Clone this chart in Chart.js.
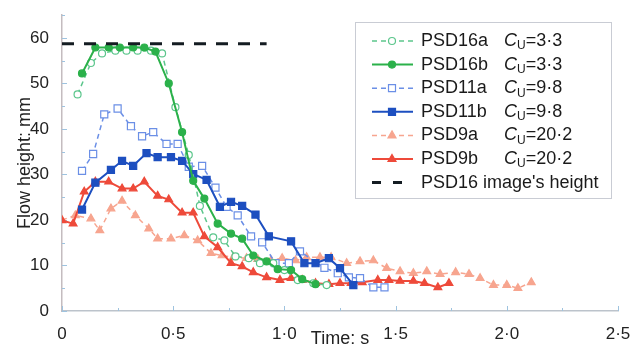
<!DOCTYPE html>
<html>
<head>
<meta charset="utf-8">
<script src="https://cdn.jsdelivr.net/npm/chart.js@4"></script>
<style>
  html, body { margin: 0; padding: 0; background: #fff; }
</style>
</head>
<body>
<canvas id="flow_chart" width="639" height="352"></canvas>
<script>
// time (s) and flow height (mm)
const t16a = [0.07, 0.13, 0.18, 0.24, 0.29, 0.34, 0.40, 0.45, 0.51, 0.57, 0.62, 0.68, 0.73, 0.78, 0.84, 0.89, 0.95, 1.00, 1.06, 1.13, 1.19]
const h16a = [47.6, 54.5, 56.6, 57.2, 57.2, 57.2, 57.2, 56.6, 44.8, 34.3, 23.1, 16.2, 15.5, 12.0, 11.6, 10.5, 10.5, 9.0, 6.8, 6.1, 5.7]

const t16b = [0.09, 0.15, 0.21, 0.26, 0.32, 0.37, 0.42, 0.48, 0.54, 0.59, 0.64, 0.70, 0.76, 0.81, 0.86, 0.92, 0.97, 1.03, 1.08, 1.14]
const h16b = [52.2, 57.9, 57.9, 57.9, 57.9, 57.9, 57.0, 50.0, 39.3, 28.6, 24.7, 19.2, 17.0, 15.9, 12.2, 10.9, 9.2, 9.0, 7.0, 5.9]

const t11a = [0.09, 0.14, 0.19, 0.25, 0.31, 0.36, 0.41, 0.47, 0.52, 0.57, 0.63, 0.69, 0.74, 0.79, 0.85, 0.90, 0.96, 1.02, 1.07, 1.18, 1.24, 1.29, 1.34, 1.40, 1.45]
const h11a = [30.8, 34.5, 43.2, 44.5, 40.6, 38.4, 39.3, 36.7, 36.7, 31.7, 31.9, 27.1, 22.9, 21.0, 16.4, 15.1, 10.5, 10.5, 13.1, 9.5, 8.3, 7.4, 7.2, 5.2, 5.2]

const t11b = [0.09, 0.15, 0.22, 0.27, 0.32, 0.38, 0.43, 0.49, 0.54, 0.59, 0.65, 0.71, 0.76, 0.81, 0.87, 0.93, 1.03, 1.09, 1.14, 1.20, 1.25, 1.31]
const h11b = [22.3, 28.2, 31.0, 33.0, 31.9, 34.7, 33.8, 33.8, 33.0, 30.1, 28.8, 22.9, 24.0, 23.1, 21.2, 16.4, 15.3, 10.5, 10.5, 11.6, 9.4, 5.7]

const t9a = [0.00, 0.06, 0.13, 0.17, 0.22, 0.27, 0.33, 0.39, 0.43, 0.49, 0.55, 0.61, 0.67, 0.72, 0.77, 0.83, 0.88, 0.94, 0.99, 1.05, 1.10, 1.16, 1.21, 1.28, 1.34, 1.40, 1.46, 1.52, 1.58, 1.64, 1.70, 1.77, 1.83, 1.88, 1.94, 2.00, 2.05, 2.11]
const h9a = [20.0, 21.0, 20.3, 17.7, 22.5, 24.2, 21.0, 18.1, 15.9, 15.9, 16.6, 15.5, 12.7, 12.2, 11.8, 11.6, 11.4, 11.1, 11.6, 11.1, 11.8, 11.8, 11.8, 10.5, 10.9, 11.1, 9.4, 8.7, 8.3, 8.7, 8.1, 8.5, 8.1, 7.2, 5.7, 5.7, 5.0, 6.3]

const t9b = [0.00, 0.05, 0.10, 0.15, 0.21, 0.27, 0.32, 0.37, 0.43, 0.48, 0.54, 0.59, 0.64, 0.70, 0.76, 0.81, 0.86, 0.92, 0.98, 1.03, 1.08, 1.14, 1.20, 1.25, 1.30, 1.35, 1.42, 1.47, 1.52, 1.58, 1.63, 1.69, 1.74]
const h9b = [19.9, 19.2, 26.2, 28.4, 28.4, 26.9, 26.9, 28.4, 25.3, 24.5, 21.6, 21.6, 16.4, 14.0, 10.5, 9.8, 8.5, 7.4, 6.8, 7.2, 6.8, 6.1, 5.9, 6.1, 6.1, 6.3, 6.8, 6.8, 6.6, 6.6, 6.1, 5.2, 6.1]

// PSD16 image height line
const tImage = [0, 0.92]
const hImage = [58.7, 58.7]

const seriesNames = ['PSD16a', 'PSD16b', 'PSD11a', 'PSD11b', 'PSD9a', 'PSD9b', "PSD16 image's height"]
const cuValues = ['3·3', '3·3', '9·8', '9·8', '20·2', '20·2', null]

const COLORS = {
  green_light: '#5cc68c',
  green: '#2bb14a',
  blue_light: '#6b8fe6',
  blue: '#1d4fc0',
  salmon: '#f7a58f',
  red: '#ee4a3a',
  black: '#141c22',
}

const FONT = '"Liberation Sans", Arial, sans-serif'

function series(label, ts, hs, color, style, dashed, hollow, r) {
  return {
    label: label,
    data: ts.map((t, i) => ({ x: t, y: hs[i] })),
    borderColor: color,
    backgroundColor: hollow ? '#fff' : color,
    pointBackgroundColor: hollow ? '#fff' : color,
    pointBorderColor: color,
    pointStyle: style,
    pointRadius: r,
    pointBorderWidth: 1.2,
    borderWidth: dashed ? 1.5 : 2,
    borderDash: dashed ? [5, 4] : [],
    tension: 0,
  }
}

const datasets = [
  {
    label: seriesNames[6],
    data: tImage.map((t, i) => ({ x: t, y: hImage[i] })),
    borderColor: COLORS.black,
    borderWidth: 3,
    borderDash: [12, 10],
    pointRadius: 0,
  },
  series(seriesNames[1], t16b, h16b, COLORS.green, 'circle', false, false, 3.5),
  series(seriesNames[0], t16a, h16a, COLORS.green_light, 'circle', true, true, 3.5),
  series(seriesNames[3], t11b, h11b, COLORS.blue, 'rect', false, false, 5),
  series(seriesNames[2], t11a, h11a, COLORS.blue_light, 'rect', true, true, 5),
  series(seriesNames[5], t9b, h9b, COLORS.red, 'triangle', false, false, 4.5),
  series(seriesNames[4], t9a, h9a, COLORS.salmon, 'triangle', true, false, 4.5),
]

// legend entries in the figure's order: [color, marker, dashed, hollow]
const legendStyle = [
  [COLORS.green_light, 'circle', true, true],
  [COLORS.green, 'circle', false, false],
  [COLORS.blue_light, 'rect', true, true],
  [COLORS.blue, 'rect', false, false],
  [COLORS.salmon, 'triangle', true, false],
  [COLORS.red, 'triangle', false, false],
]

function drawMarker(ctx, style, x, y, color, hollow) {
  ctx.save()
  ctx.fillStyle = hollow ? '#fff' : color
  ctx.strokeStyle = color
  ctx.lineWidth = 1.2
  ctx.setLineDash([])
  ctx.beginPath()
  if (style == 'circle') {
    ctx.arc(x, y, 3.5, 0, Math.PI * 2)
  } else if (style == 'rect') {
    ctx.rect(x - 3.5, y - 3.5, 7, 7)
  } else {
    ctx.moveTo(x, y - 4.5)
    ctx.lineTo(x + 4, y + 2.5)
    ctx.lineTo(x - 4, y + 2.5)
    ctx.closePath()
  }
  ctx.fill()
  ctx.stroke()
  ctx.restore()
}

const paperLook = {
  id: 'paperLook',
  beforeDatasetsDraw(chart) {
    const ctx = chart.ctx
    const xs = chart.scales.x
    const ys = chart.scales.y
    const area = chart.chartArea
    ctx.save()
    ctx.strokeStyle = '#9ec3df'
    ctx.lineWidth = 1
    // small inward ticks
    for (let v = 0; v <= 2.5001; v += 0.25) {
      const px = Math.round(xs.getPixelForValue(v)) + 0.5
      const len = Math.abs(v * 2 - Math.round(v * 2)) < 0.01 ? 5 : 3
      ctx.beginPath()
      ctx.moveTo(px, area.bottom)
      ctx.lineTo(px, area.bottom - len)
      ctx.stroke()
    }
    for (let v = 0; v <= 65; v += 5) {
      const py = Math.round(ys.getPixelForValue(v)) + 0.5
      const len = v % 10 == 0 ? 5 : 3
      ctx.beginPath()
      ctx.moveTo(area.left, py)
      ctx.lineTo(area.left + len, py)
      ctx.stroke()
    }
    ctx.restore()
  },
  afterDraw(chart) {
    const ctx = chart.ctx
    const box = { x: 355, y: 22, w: 256, h: 176 }
    ctx.save()
    ctx.fillStyle = '#fff'
    ctx.fillRect(box.x, box.y, box.w, box.h)
    ctx.strokeStyle = '#c9ccd4'
    ctx.lineWidth = 1
    ctx.strokeRect(box.x + 0.5, box.y + 0.5, box.w, box.h)

    ctx.textBaseline = 'middle'
    ctx.textAlign = 'left'
    ctx.fillStyle = '#1a1a1a'
    for (let i = 0; i < seriesNames.length; i++) {
      const y = 41 + i * 23.6
      if (i < legendStyle.length) {
        const [color, marker, dashed, hollow] = legendStyle[i]
        ctx.strokeStyle = color
        ctx.lineWidth = dashed ? 1.5 : 2
        ctx.setLineDash(dashed ? [5, 4] : [])
        ctx.beginPath()
        ctx.moveTo(372, y)
        ctx.lineTo(413, y)
        ctx.stroke()
        drawMarker(ctx, marker, 392, y, color, hollow)
      } else {
        ctx.strokeStyle = COLORS.black
        ctx.lineWidth = 3
        ctx.setLineDash([])
        ctx.beginPath()
        ctx.moveTo(372, y)
        ctx.lineTo(381, y)
        ctx.moveTo(393, y)
        ctx.lineTo(402, y)
        ctx.stroke()
      }
      ctx.fillStyle = '#1a1a1a'
      ctx.font = '18px ' + FONT
      ctx.fillText(seriesNames[i], 421, y)
      if (cuValues[i]) {
        let x = 504
        ctx.font = 'italic 18px ' + FONT
        ctx.fillText('C', x, y)
        x += ctx.measureText('C').width
        ctx.font = '12px ' + FONT
        ctx.fillText('U', x, y + 5)
        x += ctx.measureText('U').width
        ctx.font = '18px ' + FONT
        ctx.fillText('=' + cuValues[i], x, y)
      }
    }
    ctx.restore()
  },
}

function fmt(v) {
  if (v == 0) return '0'
  return v.toFixed(1).replace('.', '·')
}

const flow_chart = new Chart(document.getElementById('flow_chart'), {
  type: 'line',
  data: { datasets: datasets },
  options: {
    responsive: false,
    animation: false,
    devicePixelRatio: 1,
    layout: { padding: { top: 12, right: 21, left: 0, bottom: 0 } },
    plugins: {
      legend: { display: false },
      tooltip: { enabled: false },
    },
    scales: {
      x: {
        type: 'linear',
        min: 0,
        max: 2.5,
        grid: { display: false },
        border: { display: true, color: '#bcc3cb', width: 1.5 },
        ticks: {
          stepSize: 0.5,
          padding: 5,
          color: '#222',
          font: { family: FONT, size: 17 },
          callback: (v) => fmt(v),
        },
        title: {
          display: true,
          text: 'Time: s',
          color: '#222',
          font: { family: FONT, size: 18 },
          padding: { top: 0, bottom: 2 },
        },
        afterFit: (scale) => { scale.height = 41 },
      },
      y: {
        min: 0,
        max: 65,
        grid: { display: false },
        border: { display: true, color: '#c4bcbf', width: 1.5 },
        ticks: {
          stepSize: 10,
          padding: 5,
          color: '#222',
          font: { family: FONT, size: 17 },
        },
        afterBuildTicks: (scale) => {
          scale.ticks = scale.ticks.filter((t) => t.value % 10 == 0)
        },
        title: {
          display: true,
          text: 'Flow height: mm',
          color: '#222',
          font: { family: FONT, size: 18 },
          padding: { top: 14, bottom: 0 },
        },
        afterFit: (scale) => { scale.width = 62 },
      },
    },
  },
  plugins: [paperLook],
})
</script>
</body>
</html>
